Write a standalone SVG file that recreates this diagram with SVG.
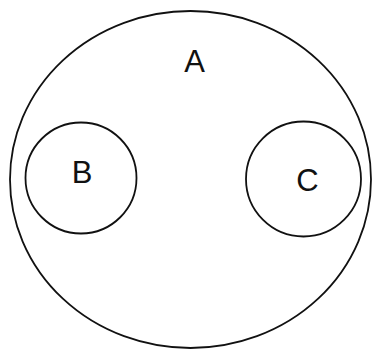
<svg xmlns="http://www.w3.org/2000/svg" width="379" height="351" viewBox="0 0 379 351">
<style>
.s{fill:none;stroke:#111;stroke-width:1.8}
.t{font-family:"Liberation Sans",Arial,sans-serif;font-size:31px;fill:#111;text-anchor:middle}
</style>
<rect width="379" height="351" fill="#fff"/>
<g id="A"><ellipse class="s" cx="190.5" cy="179.5" rx="180.5" ry="168.5"/><text class="t" x="194.5" y="72">A</text></g>
<g id="B"><circle class="s" cx="81" cy="178" r="55.5"/><text class="t" x="82" y="183">B</text></g>
<g id="C"><circle class="s" cx="303.5" cy="179" r="57.5"/><text class="t" x="307.5" y="191">C</text></g>
<g id="connectors"/>
</svg>
